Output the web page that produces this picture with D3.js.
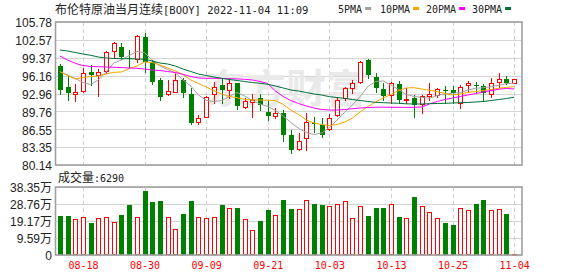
<!DOCTYPE html>
<html>
<head>
<meta charset="utf-8">
<script src="https://cdn.jsdelivr.net/npm/d3@7"></script>
<style>
    html, body { margin: 0; padding: 0; background: #fff; }
    svg { display: block; }
</style>
</head>
<body>
<div id="chart"></div>
<script>
'use strict';

// Trading days shown on the chart
const dates = [
    "08-15", "08-16", "08-17", "08-18", "08-19", "08-22", "08-23", "08-24", "08-25", "08-26",
    "08-29", "08-30", "08-31", "09-01", "09-02", "09-05", "09-06", "09-07", "09-08", "09-09",
    "09-12", "09-13", "09-14", "09-15", "09-16", "09-19", "09-20", "09-21", "09-22", "09-23",
    "09-26", "09-27", "09-28", "09-29", "09-30", "10-03", "10-04", "10-05", "10-06", "10-07",
    "10-10", "10-11", "10-12", "10-13", "10-14", "10-17", "10-18", "10-19", "10-20", "10-21",
    "10-24", "10-25", "10-26", "10-27", "10-28", "10-31", "11-01", "11-02", "11-03", "11-04"
];

const opens = [
    97.89, 94.07, 92.87, 93.46, 96.81, 96.22, 97.05, 100.53, 101.30, 99.33,
    99.09, 103.14, 98.52, 95.38, 92.82, 93.18, 95.38, 92.82, 87.90, 88.80,
    92.82, 94.48, 93.59, 94.79, 90.59, 91.49, 92.21, 89.70, 88.98, 89.46,
    85.52, 82.96, 84.93, 87.67, 87.31, 86.54, 89.11, 92.10, 93.89, 94.97,
    98.97, 95.97, 93.71, 92.69, 94.61, 91.79, 92.10, 91.08, 92.51, 92.64,
    93.64, 93.59, 91.31, 94.43, 94.52, 94.36, 92.87, 95.02, 95.51, 94.79
];
const highs = [
    98.25, 96.10, 94.66, 97.48, 98.07, 97.35, 100.63, 102.19, 102.01, 100.76,
    103.45, 103.75, 98.97, 95.69, 95.38, 96.58, 95.69, 93.89, 89.11, 92.51,
    95.08, 95.74, 95.69, 94.84, 92.21, 92.87, 92.87, 91.62, 90.31, 90.00,
    86.42, 85.82, 89.41, 88.69, 88.51, 89.28, 92.28, 94.18, 95.38, 98.84,
    99.09, 96.69, 94.79, 95.08, 95.20, 93.89, 92.69, 92.69, 94.79, 93.89,
    94.30, 94.30, 94.48, 95.26, 95.08, 94.66, 95.69, 96.69, 96.10, 95.51
];
const lows = [
    92.87, 91.79, 91.67, 93.28, 94.48, 92.51, 96.58, 99.45, 99.15, 97.77,
    98.66, 96.76, 94.61, 91.79, 92.76, 93.14, 92.39, 87.49, 87.44, 88.69,
    91.31, 91.20, 92.10, 90.13, 90.31, 88.69, 90.00, 88.21, 88.51, 84.53,
    82.35, 82.83, 82.83, 86.11, 85.21, 86.42, 88.93, 91.79, 93.00, 94.79,
    95.69, 93.28, 91.79, 91.20, 91.31, 91.20, 88.80, 89.41, 91.79, 92.39,
    91.31, 91.20, 90.41, 93.28, 93.28, 91.67, 92.39, 94.18, 94.66, 94.79
];
const closes = [
    93.59, 93.00, 93.23, 96.58, 96.33, 96.76, 100.35, 102.01, 99.59, 99.06,
    103.27, 98.66, 95.08, 92.39, 93.41, 95.38, 93.00, 87.67, 88.51, 92.39,
    94.18, 93.59, 94.79, 90.72, 91.62, 91.79, 90.90, 88.98, 89.41, 85.52,
    82.74, 84.44, 87.90, 87.56, 85.52, 88.62, 91.79, 93.89, 94.90, 98.55,
    96.28, 93.89, 92.51, 94.79, 91.79, 91.97, 90.90, 92.51, 92.87, 93.71,
    93.53, 93.10, 94.18, 94.79, 94.41, 93.10, 94.79, 95.51, 94.79, 95.51
];
const volumes = [
    221600, 221600, 203000, 214300, 180500, 208700, 214300, 186100, 225600, 282000,
    214300, 362600, 298900, 306200, 214300, 146600, 231200, 304500, 214300, 208700,
    214300, 282000, 265100, 265100, 203000, 141000, 191800, 253800, 225600, 310200,
    259400, 259400, 310200, 287600, 282000, 276300, 287600, 304500, 208700, 276300,
    219900, 265100, 265100, 287600, 214300, 208700, 327100, 276300, 242500, 208700,
    180500, 169200, 265100, 253800, 287600, 310200, 253800, 259400, 231200, 6290
];

// Moving averages as drawn (they carry history from before the window)
const ma5 = [
    96.87, 96.28, 95.65, 94.93, 94.57, 95.38, 96.81, 98.43, 98.97, 99.77,
    100.49, 100.28, 98.97, 97.89, 97.26, 96.64, 95.38, 94.30, 92.69, 91.74,
    91.53, 91.70, 92.42, 93.14, 92.51, 91.70, 91.08, 90.63, 89.91, 88.93,
    87.76, 86.72, 85.97, 85.61, 85.88, 86.86, 88.21, 89.64, 90.90, 92.42,
    94.22, 95.11, 95.20, 94.48, 93.68, 92.78, 92.42, 92.28, 92.10, 92.60,
    92.87, 93.00, 93.10, 93.59, 93.89, 94.00, 94.18, 94.43, 94.75, 94.79
];
const ma10 = [
    96.87, 96.19, 95.56, 95.83, 96.01, 96.10, 96.46, 96.76, 96.81, 97.44,
    97.89, 98.61, 98.52, 98.07, 97.53, 96.99, 96.37, 95.38, 94.75, 94.13,
    93.50, 92.87, 92.42, 92.21, 91.88, 91.82, 91.79, 91.75, 91.70, 90.99,
    90.00, 89.20, 88.21, 87.67, 87.40, 87.22, 87.40, 87.85, 88.57, 89.64,
    90.63, 91.44, 92.15, 92.78, 93.50, 93.95, 94.00, 93.77, 93.53, 93.32,
    92.96, 92.69, 92.87, 93.14, 93.32, 93.50, 93.68, 93.89, 94.04, 94.18
];
const ma20 = [
    99.68, 98.97, 98.37, 97.98, 97.80, 97.77, 97.71, 97.66, 97.62, 97.53,
    97.48, 97.35, 97.17, 97.08, 96.90, 96.73, 96.37, 96.01, 95.74, 95.69,
    95.69, 95.65, 95.61, 95.56, 95.51, 95.38, 95.11, 94.75, 93.41, 92.42,
    91.70, 91.17, 90.72, 90.36, 90.09, 90.00, 90.00, 90.09, 90.23, 90.36,
    90.45, 90.49, 90.51, 90.49, 90.47, 90.47, 90.49, 90.54, 91.08, 91.53,
    91.88, 92.15, 92.42, 92.69, 92.96, 93.23, 93.50, 93.71, 93.86, 93.77
];
const ma30 = [
    100.76, 100.58, 100.31, 100.04, 99.81, 99.50, 99.33, 99.24, 99.20, 99.20,
    99.15, 99.09, 98.79, 98.43, 98.25, 97.89, 97.35, 96.90, 96.46, 96.19,
    95.92, 95.69, 95.47, 95.29, 95.11, 94.93, 94.79, 94.61, 94.30, 93.95,
    93.59, 93.41, 93.14, 92.87, 92.69, 92.39, 92.24, 92.10, 91.88, 91.70,
    91.53, 91.38, 91.31, 91.26, 91.20, 91.11, 91.08, 91.08, 91.13, 91.17,
    91.20, 91.26, 91.31, 91.35, 91.44, 91.53, 91.70, 91.88, 92.06, 92.28
];

// Axes
const priceTicks = [105.78, 102.57, 99.37, 96.16, 92.96, 89.76, 86.55, 83.35, 80.14];
const volumeTicks = [383500, 287625, 191750, 95875, 0];
const volumeTickLabels = ["38.35万", "28.76万", "19.17万", "9.59万", "0"];
const labelDates = ["08-18", "08-30", "09-09", "09-21", "10-03", "10-13", "10-25", "11-04"];

const title = "布伦特原油当月连续";
const titleCode = "[BOOY] 2022-11-04 11:09";
const maSeries = [
    { name: "5PMA", values: ma5, color: "#a0a0a0" },
    { name: "10PMA", values: ma10, color: "#f7a400" },
    { name: "20PMA", values: ma20, color: "#ff00ff" },
    { name: "30PMA", values: ma30, color: "#00703a" }
];

const palette = { up: "#ff0000", down: "#008000", grid: "#d4d4d4", frame: "#a0a0a0", text: "#222" };
const monoFont = "'DejaVu Sans Mono', monospace";
const cjkFont = "'Noto Sans CJK SC', sans-serif";
const labelFont = "'Liberation Sans', 'Noto Sans CJK SC', sans-serif";

const plot = { left: 56, right: 522, priceTop: 22, priceBottom: 165, volTop: 187, volBottom: 255 };

const candles = dates.map((date, i) => ({
    date, open: opens[i], high: highs[i], low: lows[i], close: closes[i], volume: volumes[i]
}));

const crisp = v => Math.round(v) + 0.5;

const svg = d3.select("#chart").append("svg")
    .attr("width", 578)
    .attr("height", 276);

// Scales
const x = d3.scalePoint()
    .domain(dates)
    .range([plot.left, 518])
    .padding(0.5);

const y = d3.scaleLinear()
    .domain([80.14, 105.78])
    .range([plot.priceBottom, plot.priceTop]);

const yVol = d3.scaleLinear()
    .domain([0, 383500])
    .range([plot.volBottom, plot.volTop]);

// Grid
const grid = svg.append("g").classed("grid", true);

grid.selectAll(".price-grid")
    .data(priceTicks)
    .join("line")
    .attr("x1", plot.left)
    .attr("x2", plot.right)
    .attr("y1", d => crisp(y(d)))
    .attr("y2", d => crisp(y(d)))
    .attr("stroke", palette.grid);

grid.selectAll(".vol-grid")
    .data(volumeTicks)
    .join("line")
    .attr("x1", plot.left)
    .attr("x2", plot.right)
    .attr("y1", d => crisp(yVol(d)))
    .attr("y2", d => crisp(yVol(d)))
    .attr("stroke", palette.grid);

[[plot.priceTop, plot.priceBottom], [plot.volTop, plot.volBottom]].forEach(([top, bottom]) => {
    grid.append("g").selectAll("line")
        .data(labelDates)
        .join("line")
        .attr("x1", d => crisp(x(d)))
        .attr("x2", d => crisp(x(d)))
        .attr("y1", top)
        .attr("y2", bottom)
        .attr("stroke", "#cfcfcf")
        .attr("stroke-dasharray", "4 3");
});

// Watermark
svg.append("text")
    .attr("x", 286)
    .attr("y", 103)
    .attr("text-anchor", "middle")
    .attr("font-family", cjkFont)
    .attr("font-size", 40)
    .attr("font-weight", 700)
    .attr("fill", "#e9e9e9")
    .text("东方财富");

// Candles
const candleLayer = svg.append("g").classed("candles", true);

const candleG = candleLayer.selectAll(".candle")
    .data(candles)
    .join("g")
    .classed("candle", true);

candleG.append("line")
    .attr("x1", d => crisp(x(d.date)))
    .attr("x2", d => crisp(x(d.date)))
    .attr("y1", d => Math.round(y(d.high)))
    .attr("y2", d => Math.round(y(d.low)) + 1)
    .attr("stroke", d => d.close >= d.open ? palette.up : palette.down);

candleG.filter(d => d.close >= d.open)
    .append("rect")
    .attr("x", d => Math.round(x(d.date)) - 1.5)
    .attr("y", d => Math.round(y(d.close)) + 0.5)
    .attr("width", 4)
    .attr("height", d => Math.max(1, Math.round(y(d.open)) - Math.round(y(d.close))))
    .attr("fill", "#fff")
    .attr("stroke", palette.up);

candleG.filter(d => d.close < d.open)
    .append("rect")
    .attr("x", d => Math.round(x(d.date)) - 2)
    .attr("y", d => Math.round(y(d.open)))
    .attr("width", 5)
    .attr("height", d => Math.max(1, Math.round(y(d.close)) - Math.round(y(d.open))))
    .attr("fill", palette.down);

// Moving averages
const maLine = values => d3.line()
    .x((v, i) => x(dates[i]))
    .y(v => y(v))(values);

svg.append("g").classed("ma-lines", true)
    .selectAll("path")
    .data(maSeries)
    .join("path")
    .attr("d", d => maLine(d.values))
    .attr("fill", "none")
    .attr("stroke", d => d.color)
    .attr("stroke-width", 1);

// Volume bars
const volLayer = svg.append("g").classed("volume", true);

volLayer.selectAll(".vol-up")
    .data(candles.filter(d => d.close >= d.open))
    .join("rect")
    .attr("x", d => Math.round(x(d.date)) - 1.5)
    .attr("y", d => Math.min(plot.volBottom - 1, Math.round(yVol(d.volume))) + 0.5)
    .attr("width", 4)
    .attr("height", d => Math.max(0.5, plot.volBottom - 1 - Math.round(yVol(d.volume))))
    .attr("fill", "#fff")
    .attr("stroke", palette.up);

volLayer.selectAll(".vol-down")
    .data(candles.filter(d => d.close < d.open))
    .join("rect")
    .attr("x", d => Math.round(x(d.date)) - 2)
    .attr("y", d => Math.round(yVol(d.volume)))
    .attr("width", 5)
    .attr("height", d => plot.volBottom - Math.round(yVol(d.volume)))
    .attr("fill", palette.down);

// Frames
[[plot.priceTop, plot.priceBottom], [plot.volTop, plot.volBottom]].forEach(([top, bottom]) => {
    svg.append("rect")
        .attr("x", 55.5)
        .attr("y", top)
        .attr("width", plot.right - 55.5)
        .attr("height", bottom - top)
        .attr("fill", "none")
        .attr("stroke", palette.frame)
        .attr("stroke-width", 1.6);
});

// Left axes
const axisPrice = svg.append("g")
    .attr("transform", `translate(${plot.left - 1},0)`)
    .call(d3.axisLeft(y).tickValues(priceTicks).tickSize(0).tickPadding(3).tickFormat(d3.format(".2f")));

const axisVol = svg.append("g")
    .attr("transform", `translate(${plot.left - 1},0)`)
    .call(d3.axisLeft(yVol).tickValues(volumeTicks).tickSize(0).tickPadding(3)
        .tickFormat((d, i) => volumeTickLabels[i]));

[axisPrice, axisVol].forEach(axis => {
    axis.select(".domain").remove();
    axis.selectAll("text")
        .attr("font-family", labelFont)
        .attr("font-size", 12)
        .attr("fill", palette.text)
        .attr("dy", "0.4em");
});

// Date axis
const axisDate = svg.append("g")
    .attr("transform", `translate(0,${plot.volBottom})`)
    .call(d3.axisBottom(x).tickValues(labelDates).tickSize(0).tickPadding(7));

axisDate.select(".domain").remove();
axisDate.selectAll("text")
    .attr("font-family", monoFont)
    .attr("font-size", 10)
    .attr("fill", palette.up);

// Title
const titleText = svg.append("text")
    .attr("x", 55)
    .attr("y", 14)
    .attr("fill", palette.text);

titleText.append("tspan")
    .attr("font-family", cjkFont)
    .attr("font-size", 12)
    .text(title);

titleText.append("tspan")
    .attr("font-family", monoFont)
    .attr("font-size", 10.5)
    .text(titleCode);

// Legend
const legendX = [338, 380, 426, 472];
const legend = svg.append("g").classed("legend", true);

maSeries.forEach((s, i) => {
    const item = legend.append("g").attr("transform", `translate(${legendX[i]},0)`);
    const label = item.append("text")
        .attr("y", 13)
        .attr("font-family", monoFont)
        .attr("font-size", 10)
        .attr("fill", palette.text)
        .text(s.name);
    const w = label.node().getComputedTextLength();
    item.append("rect")
        .attr("x", w + 3)
        .attr("y", 7)
        .attr("width", 6)
        .attr("height", 3)
        .attr("fill", s.color);
});

// Volume caption
const volCaption = svg.append("text")
    .attr("x", 58)
    .attr("y", 182)
    .attr("fill", palette.text);

volCaption.append("tspan")
    .attr("font-family", cjkFont)
    .attr("font-size", 12)
    .text("成交量");

volCaption.append("tspan")
    .attr("font-family", monoFont)
    .attr("font-size", 10)
    .text(`:${volumes[volumes.length - 1]}`);
</script>
</body>
</html>
